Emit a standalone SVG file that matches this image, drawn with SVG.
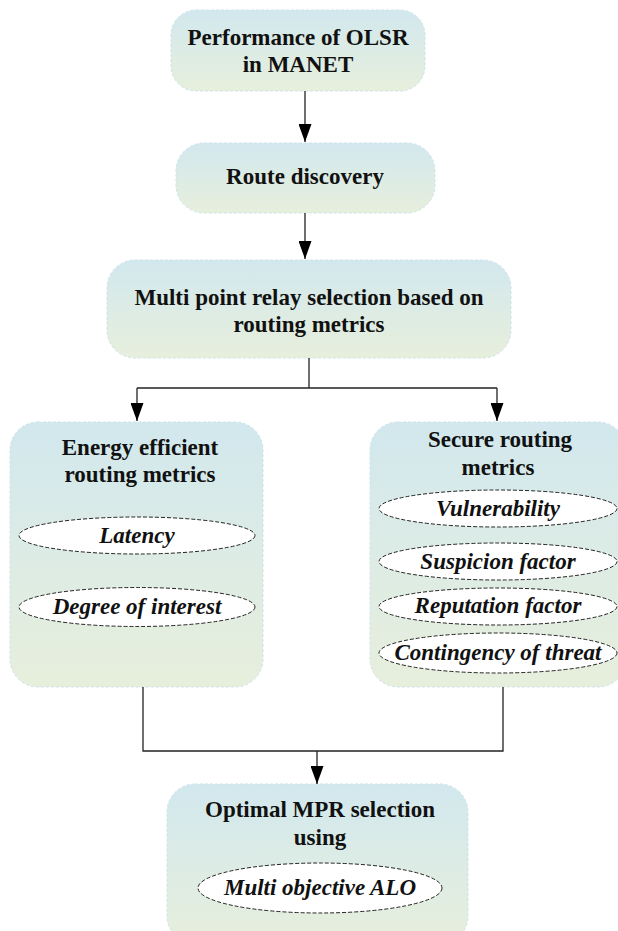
<svg xmlns="http://www.w3.org/2000/svg" width="618" height="931" viewBox="0 0 618 931">
<defs>
<linearGradient id="g" x1="0" y1="0" x2="0" y2="1">
<stop offset="0" stop-color="#d2e8ee"/>
<stop offset="1" stop-color="#e7efdc"/>
</linearGradient>
<marker id="ah" markerUnits="userSpaceOnUse" markerWidth="18" markerHeight="13" refX="18" refY="6.5" orient="auto" viewBox="0 0 18 13">
<path d="M0,0 L18,6.5 L0,13 Z" fill="#000"/>
</marker>
<style>
.box{fill:url(#g);stroke:#cde3ea;stroke-width:1;stroke-dasharray:3 2}
.t{font-family:"Liberation Serif","Times New Roman",serif;font-weight:bold;font-size:23px;fill:#111;text-anchor:middle}
.i{font-style:italic}
.el{fill:#fff;stroke:#222;stroke-width:1;stroke-dasharray:4 2}
.c{fill:none;stroke:#222;stroke-width:1.3}
</style>
</defs>
<g id="n1">
<rect class="box" x="171" y="10" width="254" height="81" rx="25"/>
<text class="t" x="298" y="45">Performance of OLSR</text>
<text class="t" x="298" y="72">in MANET</text>
</g>
<g id="n2">
<rect class="box" x="176" y="143" width="259" height="70" rx="28"/>
<text class="t" x="305" y="184">Route discovery</text>
</g>
<g id="n3">
<rect class="box" x="107" y="260" width="404" height="98" rx="28"/>
<text class="t" x="309" y="305">Multi point relay selection based on</text>
<text class="t" x="309" y="332">routing metrics</text>
</g>
<g id="n4">
<rect class="box" x="10" y="422" width="253" height="265" rx="28"/>
<text class="t" x="140" y="455">Energy efficient</text>
<text class="t" x="140" y="482">routing metrics</text>
<ellipse class="el" cx="137" cy="535.5" rx="118" ry="18.5"/>
<text class="t i" x="137" y="543">Latency</text>
<ellipse class="el" cx="137" cy="607" rx="118" ry="19.5"/>
<text class="t i" x="137" y="614">Degree of interest</text>
</g>
<g id="n5">
<rect class="box" x="370" y="422" width="256" height="265" rx="28"/>
<text class="t" x="500" y="447">Secure routing</text>
<text class="t" x="498" y="475">metrics</text>
<ellipse class="el" cx="498" cy="508.5" rx="119" ry="18.5"/>
<text class="t i" x="498" y="516">Vulnerability</text>
<ellipse class="el" cx="498" cy="561.5" rx="119" ry="18.5"/>
<text class="t i" x="498" y="569">Suspicion factor</text>
<ellipse class="el" cx="498" cy="606.5" rx="119" ry="18.5"/>
<text class="t i" x="498" y="613">Reputation factor</text>
<ellipse class="el" cx="498" cy="653" rx="119" ry="20"/>
<text class="t i" x="498" y="660">Contingency of threat</text>
</g>
<g id="n6">
<rect class="box" x="167" y="784" width="301" height="160" rx="28"/>
<text class="t" x="320" y="817">Optimal MPR selection</text>
<text class="t" x="320" y="845">using</text>
<ellipse class="el" cx="320" cy="888" rx="122" ry="25"/>
<text class="t i" x="320" y="895">Multi objective ALO</text>
</g>
<g id="connectors">
<path class="c" d="M305,91 V142" marker-end="url(#ah)"/>
<path class="c" d="M305,213 V259" marker-end="url(#ah)"/>
<path class="c" d="M309,358 V388"/>
<path class="c" d="M137,388 H497"/>
<path class="c" d="M137,388 V421" marker-end="url(#ah)"/>
<path class="c" d="M497,388 V421" marker-end="url(#ah)"/>
<path class="c" d="M143,687 V751 H503 V687"/>
<path class="c" d="M317,751 V784" marker-end="url(#ah)"/>
</g>
</svg>
